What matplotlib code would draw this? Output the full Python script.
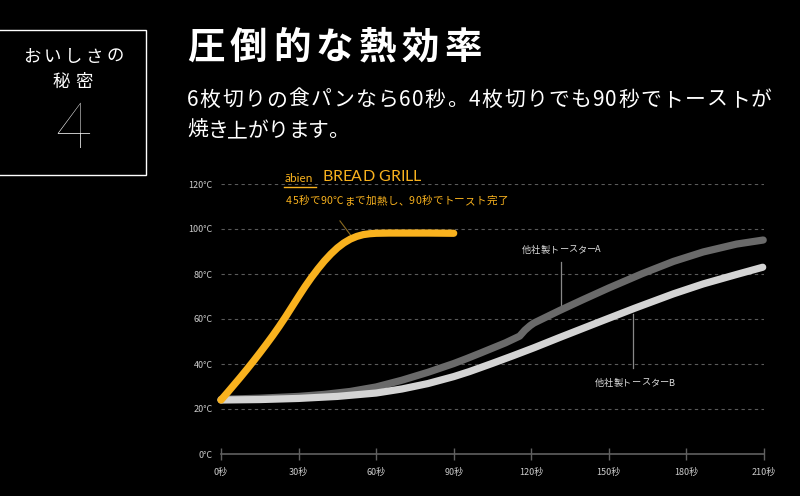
import matplotlib
matplotlib.use("Agg")
import matplotlib.pyplot as plt

plt.rcParams['font.family'] = ['Noto Sans CJK JP', 'DejaVu Sans']

# ---- data ----
yellow_t = [0, 2.5, 5, 7.5, 10, 12.5, 15, 17.5, 20, 22.5, 25, 27.5, 30, 32.5, 35, 37.5, 40,
            42.5, 45, 47.5, 50, 52.5, 55, 57.5, 60, 65, 70, 80, 90]
yellow_v = [24, 27.3, 30.7, 34.1, 37.6, 41.2, 44.9, 48.7, 52.6, 56.7, 61.0, 65.5, 70.0, 74.4, 78.5,
            82.3, 85.8, 88.9, 91.6, 93.8, 95.5, 96.7, 97.5, 97.9, 98.1, 98.2, 98.2, 98.2, 98.1]

a_t = [0, 15, 30, 40, 50, 60, 70, 80, 90, 95, 100, 110, 115.5, 117.5, 119.5, 121, 131, 140, 150,
       163, 175, 186.5, 199.4, 209.7]
a_v = [24.3, 24.8, 25.6, 26.5, 27.8, 29.8, 32.8, 36.3, 40.2, 42.4, 44.7, 49.4, 52.4, 55.0, 57.0,
       58.2, 63.8, 68.6, 73.8, 80.2, 85.6, 89.8, 93.3, 95.1]

b_t = [0, 15, 30, 45, 60, 70, 80, 90, 96, 105, 113, 121, 131, 147, 160, 175, 186.5, 199.4, 209.5]
b_v = [24, 24.2, 24.7, 25.6, 27.1, 28.9, 31.3, 34.4, 36.6, 40.3, 43.7, 47.2, 51.8, 59, 64.8,
       71.2, 75.6, 79.8, 83]

x_ticks = [0, 30, 60, 90, 120, 150, 180, 210]
x_labels = ['0秒', '30秒', '60秒', '90秒', '120秒', '150秒', '180秒', '210秒']
y_ticks = [0, 20, 40, 60, 80, 100, 120]
y_labels = ['0°C', '20°C', '40°C', '60°C', '80°C', '100°C', '120°C']

ORANGE = '#F9B21E'
W, H = 800, 496
fig = plt.figure(figsize=(8, 4.96), dpi=100, facecolor='black')
renderer = fig.canvas.get_renderer()


def spaced_text(x0, yc, s, target_w, **kw):
    """Draw string char by char (pixel coords, top-origin y) spread to target width."""
    arts = []
    widths = []
    for ch in s:
        t = fig.text(0, 0, ch, ha='left', va='center', **kw)
        bb = t.get_window_extent(renderer)
        arts.append(t)
        widths.append(bb.width)
    gap = (target_w - sum(widths)) / max(len(s) - 1, 1)
    x = x0
    for t, w in zip(arts, widths):
        t.set_position((x / W, 1 - yc / H))
        x += w + gap


ax = fig.add_axes([221 / W, (H - 454) / H, 543 / W, 270 / H])
ax.set_facecolor('black')
ax.set_xlim(0, 210)
ax.set_ylim(0, 120)

for yv in y_ticks[1:]:
    ax.plot([0, 210], [yv, yv], color='#5a5a5a', lw=0.8, dashes=(3, 3), zorder=1)

common = dict(lw=5.2, solid_capstyle='round', solid_joinstyle='round', clip_on=False)
ax.plot(b_t, b_v, color='#d4d4d4', zorder=3, **common)
ax.plot(a_t, a_v, color='#6a6a6a', zorder=2, **common)
ax.plot(yellow_t, yellow_v, color=ORANGE, zorder=4, **common)

for s in ['top', 'right', 'left']:
    ax.spines[s].set_visible(False)
ax.spines['bottom'].set_color('#606060')
ax.spines['bottom'].set_linewidth(1.2)
ax.set_xticks(x_ticks)
ax.set_xticklabels(x_labels)
ax.set_yticks(y_ticks)
ax.set_yticklabels(y_labels)
ax.tick_params(axis='x', colors='#606060', direction='inout', length=8, width=1, labelsize=6.5,
               labelcolor='#cccccc', pad=6)
ax.tick_params(axis='y', length=0, labelsize=6.5, labelcolor='#cccccc', pad=6)

# leader lines
ax.plot([46.0, 50.7], [103.6, 96.4], color='#8a6a20', lw=0.8, zorder=2)
ax.plot([131.5, 131.5], [85.3, 66.2], color='#888888', lw=0.9, zorder=1)
ax.plot([159.3, 159.3], [62.2, 38.2], color='#888888', lw=0.9, zorder=1)

# annotations
fig.text(285 / W, 1 - 178.5 / H, 'ābien', color=ORANGE, fontsize=8.5, ha='left', va='center',
         family=['Lato', 'DejaVu Sans'])
fig.add_artist(plt.Line2D([284 / W, 316 / W], [1 - 186.5 / H, 1 - 186.5 / H], color=ORANGE, lw=1))
spaced_text(322, 177, 'BREAD GRILL', 99, color=ORANGE, fontsize=11.5, family=['Lato', 'DejaVu Sans'])
spaced_text(286, 201, '45秒で90℃まで加熱し、90秒でトースト完了', 222, color=ORANGE, fontsize=7.6)
spaced_text(522, 250, '他社製トースターA', 79, color='#dddddd', fontsize=6.6)
spaced_text(595, 383, '他社製トースターB', 79, color='#dddddd', fontsize=6.6)

# header box
fig.add_artist(plt.Rectangle((-2 / W, 1 - 175 / H), 148 / W, 145 / H, fill=False, ec='white', lw=1.0))
spaced_text(23, 57, 'おいしさの', 101, color='white', fontsize=12.5)
spaced_text(53, 82, '秘密', 40, color='white', fontsize=12.5)
fig.text(73 / W, 1 - 131 / H, '4', color='white', fontsize=45, ha='center', va='center',
         family=['Lato', 'DejaVu Sans'], fontweight='light')

spaced_text(187, 47, '圧倒的な熱効率', 295, color='white', fontsize=27, fontweight='bold')
spaced_text(187, 100, '6枚切りの食パンなら60秒。4枚切りでも90秒でトーストが', 585, color='white',
            fontsize=15)
spaced_text(187, 131, '焼き上がります。', 162, color='white', fontsize=15)

fig.savefig('out.png', dpi=100, facecolor='black')
